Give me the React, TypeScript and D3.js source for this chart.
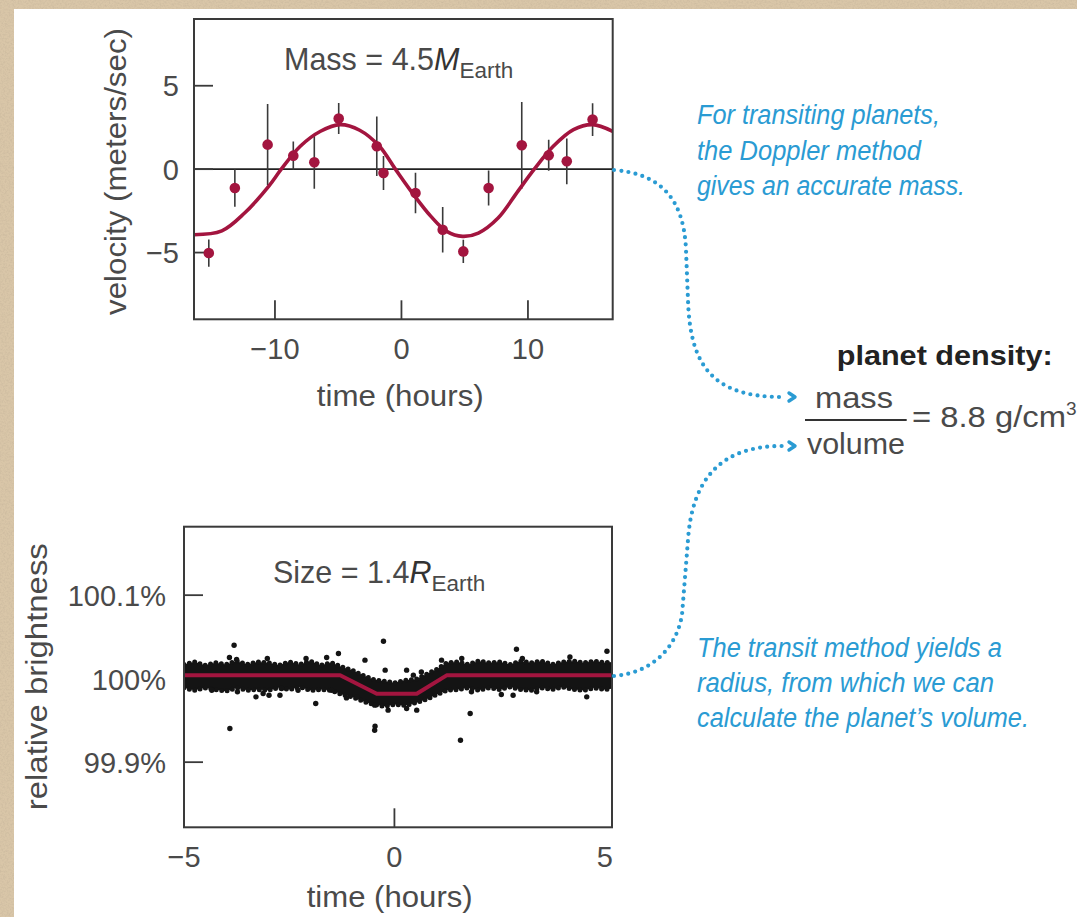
import React from "react";
import * as d3 from "d3";

// ---------- Doppler (radial velocity) data ----------
const RV_TIME = [-15.23, -13.17, -10.58, -8.55, -6.89, -4.96, -1.95, -1.42, 1.11, 3.26, 4.89, 6.89, 9.51, 11.64, 13.07, 15.11];
const RV_VEL = [-5.03, -1.13, 1.47, 0.81, 0.41, 3.03, 1.37, -0.23, -1.43, -3.63, -4.93, -1.13, 1.43, 0.83, 0.47, 2.97];
const RV_ERR = [0.82, 1.12, 2.43, 0.85, 1.58, 0.93, 1.78, 1.02, 1.22, 1.36, 0.7, 1.05, 2.6, 0.93, 1.37, 0.98];

const FIT_TIME = [-16.4, -14.2, -12.4, -10.5, -9.5, -8.0, -6.4, -4.85, -3.3, -1.74, -0.48, 0.77, 2.33, 3.58, 4.83, 6.08, 7.64, 9.2, 10.5, 12.0, 13.6, 15.1, 16.7];
const FIT_VEL = [-3.93, -3.7, -2.63, -1.03, 0, 1.37, 2.27, 2.67, 2.33, 1.37, 0, -1.33, -2.83, -3.73, -4.03, -3.83, -2.93, -1.33, 0, 1.37, 2.37, 2.67, 2.27];

const RV_X_DOMAIN = [-16.4, 16.7];
const RV_Y_DOMAIN = [-9, 9];
const RV_X_TICKS = [-10, 0, 10];
const RV_Y_TICKS = [-5, 0, 5];

// ---------- Transit (relative brightness) data ----------
const TR_X_DOMAIN = [-5, 5.17];
const TR_Y_DOMAIN = [99.822, 100.182];
const TR_X_TICKS = [-5, 0, 5];
const TR_X_TICK_MARKS = [0];
const TR_Y_TICKS = [99.9, 100, 100.1];
const TR_Y_LABELS = ["99.9%", "100%", "100.1%"];

const MODEL_TIME = [-5, -1.29, -0.42, 0.53, 1.24, 5.17];
const MODEL_BRIGHT = [100.004, 100.004, 99.982, 99.982, 100.004, 100.004];

// envelope of the dense cloud of measurements
const ENV_TIME = [-5, -4.75, -4.5, -4.25, -4, -3.75, -3.5, -3.25, -3, -2.75, -2.5, -2.25, -2, -1.75, -1.5, -1.25, -1, -0.75, -0.5, -0.25, 0, 0.25, 0.5, 0.75, 1, 1.25, 1.5, 1.75, 2, 2.25, 2.5, 2.75, 3, 3.25, 3.5, 3.75, 4, 4.25, 4.5, 4.75, 5, 5.17];
const ENV_UPPER = [100.017, 100.02, 100.016, 100.019, 100.017, 100.021, 100.017, 100.02, 100.019, 100.016, 100.02, 100.017, 100.021, 100.016, 100.019, 100.014, 100.01, 100.004, 99.999, 99.997, 99.995, 99.998, 99.999, 100.005, 100.011, 100.019, 100.02, 100.017, 100.021, 100.019, 100.02, 100.017, 100.021, 100.019, 100.021, 100.017, 100.02, 100.021, 100.019, 100.021, 100.019, 100.02];
const ENV_LOWER = [99.989, 99.986, 99.989, 99.987, 99.985, 99.989, 99.986, 99.987, 99.986, 99.989, 99.987, 99.99, 99.986, 99.987, 99.986, 99.981, 99.978, 99.973, 99.969, 99.967, 99.969, 99.968, 99.971, 99.975, 99.981, 99.986, 99.987, 99.989, 99.986, 99.989, 99.987, 99.99, 99.987, 99.986, 99.989, 99.987, 99.99, 99.987, 99.986, 99.989, 99.987, 99.988];

// isolated measurements outside the dense band
const OUT_TIME = [-3.81, -3.92, -3.75, -3.02, -2.1, -1.61, -3.91, -3.29, -3.12, -2.98, -2.72, -2.68, -1.87, -3.73, -4.34, -2.29, -0.26, -1.33, -0.7, -0.22, 0.29, 0.64, 0.45, 1.12, 1.6, -1.14, -0.89, -0.47, -0.15, 0.29, 0.53, -0.47, 1.8, 1.83, -1.49, 2.9, 3.04, 4.17, 5.05, 2.54, 2.82, 3.38, 4.57, 1.57, -0.46];
const OUT_BRIGHT = [100.0401, 100.0254, 100.023, 100.0242, 100.0242, 100.0254, 99.9404, 99.9782, 99.9823, 99.9802, 99.9802, 99.9883, 99.9703, 99.9842, 99.9862, 99.9862, 100.0449, 100.0302, 100.0222, 100.0102, 100.0102, 100.0081, 100.0042, 100.0222, 100.0242, 99.977, 99.9782, 99.9683, 99.9623, 99.9643, 99.9623, 99.9383, 99.9583, 99.9842, 99.9862, 100.0353, 100.0242, 100.0261, 100.0329, 99.9811, 99.9802, 99.9842, 99.9782, 99.9263, 99.943];

const FONT = "'Liberation Sans', Arial, Helvetica, sans-serif";
const NARROW = "'Liberation Sans Narrow', 'Liberation Sans', Arial, sans-serif";
const TXT = "#4a4a4a";
const FRAME = "#3a3a3a";
const RED = "#a3153f";
const BLUE = "#2a9bd3";

export default function App() {
  // scales
  const xR = d3.scaleLinear().domain(RV_X_DOMAIN).range([194, 612.7]);
  const yR = d3.scaleLinear().domain(RV_Y_DOMAIN).range([319.3, 19]);
  const xT = d3.scaleLinear().domain(TR_X_DOMAIN).range([184, 612]);
  const yT = d3.scaleLinear().domain(TR_Y_DOMAIN).range([827.3, 526.7]);

  const fitPts = FIT_TIME.map((t, i) => [t, FIT_VEL[i]] as [number, number]);
  const fitPath = d3
    .line<[number, number]>()
    .x((d) => xR(d[0]))
    .y((d) => yR(d[1]))
    .curve(d3.curveCatmullRom.alpha(0.5))(fitPts) as string;

  const envIdx = ENV_TIME.map((_, i) => i);
  const bandPath = d3
    .area<number>()
    .x((i) => xT(ENV_TIME[i]))
    .y0((i) => yT(ENV_LOWER[i]))
    .y1((i) => yT(ENV_UPPER[i]))(envIdx) as string;
  const upperPath = d3
    .line<number>()
    .x((i) => xT(ENV_TIME[i]))
    .y((i) => yT(ENV_UPPER[i]))(envIdx) as string;
  const lowerPath = d3
    .line<number>()
    .x((i) => xT(ENV_TIME[i]))
    .y((i) => yT(ENV_LOWER[i]))(envIdx) as string;
  const modelPath = d3
    .line<number>()
    .x((i) => xT(MODEL_TIME[i]))
    .y((i) => yT(MODEL_BRIGHT[i]))(MODEL_TIME.map((_, i) => i)) as string;

  const [rx0, rx1] = xR.range();
  const [ry1, ry0] = yR.range();
  const [tx0, tx1] = xT.range();
  const [ty1, ty0] = yT.range();

  return (
    <svg
      width={1077}
      height={917}
      viewBox="0 0 1077 917"
      style={{ position: "absolute", left: 0, top: 0, display: "block" }}
      fontFamily={FONT}
    >
      <defs>
        <filter id="paper" x="0" y="0" width="100%" height="100%">
          <feTurbulence type="fractalNoise" baseFrequency="0.55" numOctaves="3" seed="7" result="n" />
          <feColorMatrix
            in="n"
            type="matrix"
            values="0 0 0 0 0.55  0 0 0 0 0.45  0 0 0 0 0.32  1.4 0 0 0 -0.55"
          />
        </filter>
        <clipPath id="trClip">
          <rect x={tx0} y={ty0} width={tx1 - tx0} height={ty1 - ty0} />
        </clipPath>
        <clipPath id="rvClip">
          <rect x={rx0} y={ry0} width={rx1 - rx0} height={ry1 - ry0} />
        </clipPath>
      </defs>

      {/* paper background */}
      <rect x={0} y={0} width={1077} height={917} fill="#d9c6a8" />
      <rect x={0} y={0} width={1077} height={917} filter="url(#paper)" opacity={0.8} />
      <rect x={14} y={9} width={1063} height={908} fill="#ffffff" />

      {/* ================= Doppler chart ================= */}
      <g>
        <line x1={rx0} x2={rx1} y1={yR(0)} y2={yR(0)} stroke="#222" strokeWidth={1.6} />
        {RV_Y_TICKS.map((v) => (
          <g key={"ry" + v}>
            <line x1={rx0} x2={rx0 + 19} y1={yR(v)} y2={yR(v)} stroke={FRAME} strokeWidth={1.8} />
            <text x={179} y={yR(v) + 10.5} textAnchor="end" fontSize={29} fill={TXT}>
              {v < 0 ? "\u2212" + Math.abs(v) : String(v)}
            </text>
          </g>
        ))}
        {RV_X_TICKS.map((v) => (
          <g key={"rx" + v}>
            <line x1={xR(v)} x2={xR(v)} y1={ry1} y2={ry1 - 19} stroke={FRAME} strokeWidth={1.8} />
            <text x={xR(v)} y={359} textAnchor="middle" fontSize={29} fill={TXT}>
              {v < 0 ? "\u2212" + Math.abs(v) : String(v)}
            </text>
          </g>
        ))}
        <g clipPath="url(#rvClip)">
          {RV_TIME.map((t, i) => (
            <line
              key={"eb" + i}
              x1={xR(t)}
              x2={xR(t)}
              y1={yR(RV_VEL[i] - RV_ERR[i])}
              y2={yR(RV_VEL[i] + RV_ERR[i])}
              stroke="#3a3a3a"
              strokeWidth={1.6}
            />
          ))}
          <path d={fitPath} fill="none" stroke={RED} strokeWidth={3.6} />
          {RV_TIME.map((t, i) => (
            <circle key={"pt" + i} cx={xR(t)} cy={yR(RV_VEL[i])} r={5.3} fill={RED} />
          ))}
        </g>
        <rect x={rx0} y={ry0} width={rx1 - rx0} height={ry1 - ry0} fill="none" stroke={FRAME} strokeWidth={2} />
        <text x={284} y={70} fontSize={30.5} fill={TXT}>
          Mass = 4.5
          <tspan fontStyle="italic" fill="#333">M</tspan>
          <tspan fontSize={22.5} dy={8}>Earth</tspan>
        </text>
        <text x={400.3} y={406} textAnchor="middle" fontSize={30} fill={TXT} textLength={167} lengthAdjust="spacingAndGlyphs">
          time (hours)
        </text>
        <text
          transform="translate(126,171.5) rotate(-90)"
          textAnchor="middle"
          fontSize={30}
          fill={TXT}
          textLength={287}
          lengthAdjust="spacingAndGlyphs"
        >
          velocity (meters/sec)
        </text>
      </g>

      {/* ================= Transit chart ================= */}
      <g>
        {TR_Y_TICKS.map((v, i) => (
          <g key={"ty" + v}>
            <line x1={tx0} x2={tx0 + 19} y1={yT(v)} y2={yT(v)} stroke={FRAME} strokeWidth={1.8} />
            <text x={166} y={yT(v) + 11} textAnchor="end" fontSize={29} fill={TXT}>
              {TR_Y_LABELS[i]}
            </text>
          </g>
        ))}
        {TR_X_TICK_MARKS.map((v) => (
          <line key={"txm" + v} x1={xT(v)} x2={xT(v)} y1={ty1} y2={ty1 - 19} stroke={FRAME} strokeWidth={1.8} />
        ))}
        {TR_X_TICKS.map((v) => (
          <text key={"tx" + v} x={xT(v)} y={867} textAnchor="middle" fontSize={29} fill={TXT}>
            {v < 0 ? "\u2212" + Math.abs(v) : String(v)}
          </text>
        ))}
        <g clipPath="url(#trClip)">
          <path d={bandPath} fill="#141414" />
          <path d={upperPath} fill="none" stroke="#141414" strokeWidth={5} strokeDasharray="0 5.5" strokeLinecap="round" />
          <path d={lowerPath} fill="none" stroke="#141414" strokeWidth={5} strokeDasharray="0 5.5" strokeLinecap="round" />
          {OUT_TIME.map((t, i) => (
            <circle key={"o" + i} cx={xT(t)} cy={yT(OUT_BRIGHT[i])} r={2.7} fill="#141414" />
          ))}
          <path d={modelPath} fill="none" stroke={RED} strokeWidth={4} strokeLinejoin="round" />
        </g>
        <rect x={tx0} y={ty0} width={tx1 - tx0} height={ty1 - ty0} fill="none" stroke={FRAME} strokeWidth={2} />
        <text x={273} y={582.7} fontSize={30.5} fill={TXT}>
          Size = 1.4
          <tspan fontStyle="italic" fill="#333">R</tspan>
          <tspan fontSize={22.5} dy={8}>Earth</tspan>
        </text>
        <text x={389.7} y={906.7} textAnchor="middle" fontSize={30} fill={TXT} textLength={166} lengthAdjust="spacingAndGlyphs">
          time (hours)
        </text>
        <text
          transform="translate(47,676.7) rotate(-90)"
          textAnchor="middle"
          fontSize={30}
          fill={TXT}
          textLength={267}
          lengthAdjust="spacingAndGlyphs"
        >
          relative brightness
        </text>
      </g>

      {/* ================= annotations ================= */}
      <g fill="none" stroke={BLUE} strokeWidth={4.2} strokeLinecap="round" strokeDasharray="0 7.2">
        <path d="M614,170 C662,174 684,200 686,250 L688,300 C690,365 712,397 782,397" />
        <path d="M614,676 C650,673 676,650 682,615 L688,540 C692,480 720,446 782,446" />
      </g>
      <g fill="none" stroke={BLUE} strokeWidth={3.4} strokeLinecap="round" strokeLinejoin="round">
        <path d="M789,393 L795,397 L789,401" />
        <path d="M789,442 L795,446 L789,450" />
      </g>

      <g fontFamily={NARROW} fontStyle="italic" fontSize={27} fill={BLUE}>
        <text x={697} y={124} textLength={243} lengthAdjust="spacingAndGlyphs">For transiting planets,</text>
        <text x={697} y={160} textLength={224} lengthAdjust="spacingAndGlyphs">the Doppler method</text>
        <text x={697} y={195} textLength={268} lengthAdjust="spacingAndGlyphs">gives an accurate mass.</text>
        <text x={697} y={657} textLength={305} lengthAdjust="spacingAndGlyphs">The transit method yields a</text>
        <text x={697} y={691.5} textLength={297} lengthAdjust="spacingAndGlyphs">radius, from which we can</text>
        <text x={697} y={726.5} textLength={332} lengthAdjust="spacingAndGlyphs">calculate the planet’s volume.</text>
      </g>

      <text x={944.7} y={365} textAnchor="middle" fontSize={28} fontWeight="bold" fill="#222" textLength={216} lengthAdjust="spacingAndGlyphs">
        planet density:
      </text>
      <text x={854} y={408.3} textAnchor="middle" fontSize={30} fill={TXT} textLength={78} lengthAdjust="spacingAndGlyphs">
        mass
      </text>
      <line x1={805} x2={906.7} y1={420} y2={420} stroke="#333" strokeWidth={2} />
      <text x={856} y={454} textAnchor="middle" fontSize={30} fill={TXT} textLength={98} lengthAdjust="spacingAndGlyphs">
        volume
      </text>
      <text x={912} y={427} fontSize={30} fill={TXT} textLength={154} lengthAdjust="spacingAndGlyphs">
        = 8.8 g/cm
      </text>
      <text x={1066} y={415} fontSize={19} fill={TXT}>
        3
      </text>
    </svg>
  );
}
